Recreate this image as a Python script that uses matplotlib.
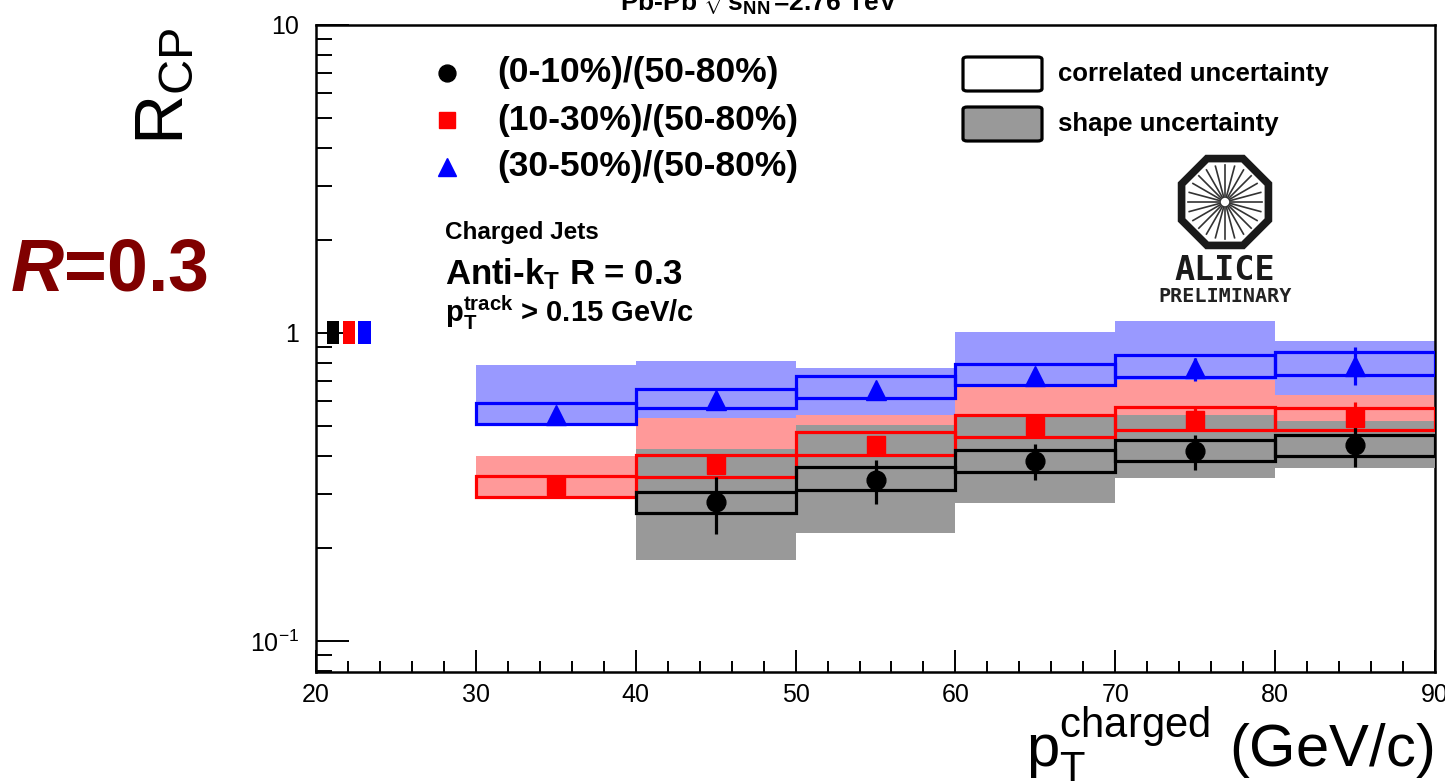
import numpy as np
import matplotlib
matplotlib.use("Agg")
import matplotlib.pyplot as plt
from matplotlib.patches import Rectangle, FancyBboxPatch, RegularPolygon

plt.rcParams['font.family'] = ['Liberation Sans', 'DejaVu Sans']
plt.rcParams['mathtext.fontset'] = 'custom'
plt.rcParams['mathtext.rm'] = 'Liberation Sans'
plt.rcParams['mathtext.bf'] = 'Liberation Sans:bold'
plt.rcParams['mathtext.it'] = 'Liberation Sans:bold:italic'
plt.rcParams['mathtext.sf'] = 'Liberation Sans'

W, H = 1445, 782

# bins in pT (GeV/c)
bin_lo = [30, 40, 50, 60, 70, 80]
bin_hi = [40, 50, 60, 70, 80, 90]

# (0-10%)/(50-80%) -- no point in the 30-40 bin
blk_x = [45, 55, 65, 75, 85]
blk_y = [0.283, 0.334, 0.383, 0.415, 0.434]
blk_stat_lo = [0.223, 0.278, 0.332, 0.360, 0.367]
blk_stat_hi = [0.340, 0.388, 0.437, 0.468, 0.498]
blk_corr_lo = [0.260, 0.310, 0.355, 0.383, 0.398]
blk_corr_hi = [0.305, 0.367, 0.418, 0.450, 0.468]
blk_shape_lo = [0.183, 0.224, 0.281, 0.338, 0.365]
blk_shape_hi = [0.421, 0.504, 0.543, 0.543, 0.517]

# (10-30%)/(50-80%)
red_x = [35, 45, 55, 65, 75, 85]
red_y = [0.318, 0.374, 0.434, 0.498, 0.523, 0.530]
red_stat_lo = [0.305, 0.355, 0.410, 0.470, 0.485, 0.470]
red_stat_hi = [0.332, 0.392, 0.460, 0.530, 0.575, 0.595]
red_corr_lo = [0.293, 0.342, 0.403, 0.461, 0.483, 0.486]
red_corr_hi = [0.344, 0.401, 0.477, 0.543, 0.575, 0.571]
red_shape_lo = [0.293, 0.300, 0.360, 0.400, 0.420, 0.450]
red_shape_hi = [0.398, 0.530, 0.543, 0.671, 0.705, 0.630]

# (30-50%)/(50-80%)
blu_x = [35, 45, 55, 65, 75, 85]
blu_y = [0.543, 0.607, 0.655, 0.723, 0.770, 0.780]
blu_stat_lo = [0.520, 0.580, 0.625, 0.690, 0.699, 0.680]
blu_stat_hi = [0.565, 0.630, 0.685, 0.760, 0.830, 0.899]
blu_corr_lo = [0.507, 0.571, 0.615, 0.677, 0.718, 0.732]
blu_corr_hi = [0.593, 0.659, 0.723, 0.795, 0.851, 0.866]
blu_shape_lo = [0.507, 0.500, 0.520, 0.620, 0.680, 0.630]
blu_shape_hi = [0.789, 0.809, 0.770, 1.005, 1.090, 0.940]

# normalisation boxes at unity
norm_x0 = [20.7, 21.7, 22.65]
norm_x1 = [21.45, 22.45, 23.45]
norm_lo = 0.92
norm_hi = 1.09

legend_labels = ['(0-10%)/(50-80%)', '(10-30%)/(50-80%)', '(30-50%)/(50-80%)']


def fx(px):
    return px / W


def fy(py):
    return 1 - py / H


fig = plt.figure(figsize=(W / 100, H / 100), dpi=100)
ax = fig.add_axes([fx(316), fy(672), fx(1435 - 316), (672 - 25) / H])
ax.set_yscale('log')
ax.set_xlim(20, 90)
ax.set_ylim(0.0793, 10)


def offset_bins(n):
    return bin_lo[6 - n:], bin_hi[6 - n:]


# shape uncertainty bands
series = [
    (blu_shape_lo, blu_shape_hi, '#9999ff', 1),
    (red_shape_lo, red_shape_hi, '#ff9999', 2),
    (blk_shape_lo, blk_shape_hi, '#999999', 3),
]
for lo, hi, c, z in series:
    x0s, x1s = offset_bins(len(lo))
    for a, b, l, h in zip(x0s, x1s, lo, hi):
        ax.add_patch(Rectangle((a, l), b - a, h - l, facecolor=c, edgecolor='none', zorder=z))

# correlated uncertainty boxes
series = [
    (blu_corr_lo, blu_corr_hi, '#0000ff'),
    (red_corr_lo, red_corr_hi, '#ff0000'),
    (blk_corr_lo, blk_corr_hi, 'black'),
]
for lo, hi, c in series:
    x0s, x1s = offset_bins(len(lo))
    for a, b, l, h in zip(x0s, x1s, lo, hi):
        ax.add_patch(Rectangle((a, l), b - a, h - l, facecolor='none', edgecolor=c, lw=2.3, zorder=5))

# points with stat errors
pts = [
    (blu_x, blu_y, blu_stat_lo, blu_stat_hi, '#0000ff', '^', 14),
    (red_x, red_y, red_stat_lo, red_stat_hi, '#ff0000', 's', 13),
    (blk_x, blk_y, blk_stat_lo, blk_stat_hi, 'black', 'o', 13.5),
]
for x, y, lo, hi, c, m, ms in pts:
    y = np.array(y)
    yerr = [y - np.array(lo), np.array(hi) - y]
    ax.errorbar(x, y, yerr=yerr, fmt=m, color=c, ms=ms, mec=c, elinewidth=2.3, capsize=0, zorder=7)

for a, b, c in zip(norm_x0, norm_x1, ['black', '#ff0000', '#0000ff']):
    ax.add_patch(Rectangle((a, norm_lo), b - a, norm_hi - norm_lo, facecolor=c, edgecolor='none', zorder=6))

# axes styling (ROOT-like inward ticks)
for s in ax.spines.values():
    s.set_linewidth(1.8)
ax.set_xticks(np.arange(20, 91, 10))
ax.set_xticks(np.arange(20, 91, 2), minor=True)
ax.set_yticks([0.1, 1, 10])
ax.set_yticklabels(['$10^{\\mathrm{-1}}$', '1', '10'])
ax.yaxis.set_minor_locator(matplotlib.ticker.LogLocator(base=10, subs=np.arange(2, 10)))
ax.yaxis.set_minor_formatter(matplotlib.ticker.NullFormatter())
ax.tick_params(axis='x', which='major', direction='in', length=16, width=1.4, labelsize=18, pad=8)
ax.tick_params(axis='x', which='minor', direction='in', length=8, width=1.4)
ax.tick_params(axis='y', which='major', direction='in', length=24, width=1.4, labelsize=18, pad=12)
ax.tick_params(axis='y', which='minor', direction='in', length=11.5, width=1.4)

# series legend
leg_y = [0.926, 0.853, 0.781]
for (x, y, lo, hi, c, m, ms), ly, lab in zip(pts[::-1], leg_y, legend_labels):
    ax.plot([0.117], [ly], marker=m, color=c, ms=ms * 0.9, transform=ax.transAxes, clip_on=False, zorder=8)
    ax.text(0.162, ly, lab, transform=ax.transAxes, fontsize=25.5, fontweight='bold', va='center')

# uncertainty legend
for y0, fc, lab in [(57, 'white', 'correlated uncertainty'), (107, '#999999', 'shape uncertainty')]:
    fig.patches.append(FancyBboxPatch((fx(963), fy(y0 + 34)), fx(79), 34 / H,
                                      boxstyle='round,pad=0,rounding_size=0.003',
                                      facecolor=fc, edgecolor='black', lw=2.3,
                                      transform=fig.transFigure, figure=fig))
    fig.text(fx(1058), fy(y0 + 17), lab, fontsize=18.5, fontweight='bold', va='center')

# labels
fig.text(fx(445), fy(232), 'Charged Jets', fontsize=17.5, fontweight='bold', va='center')
fig.text(fx(445), fy(284), r'Anti-k$_{\mathbf{T}}$ R = 0.3', fontsize=25, fontweight='bold', va='baseline')
fig.text(fx(445), fy(322), r'p$_{\mathbf{T}}^{\mathbf{track}}$ > 0.15 GeV/c', fontsize=21, fontweight='bold',
         va='baseline')

fig.text(fx(759), fy(12), r'Pb-Pb $\mathbf{\sqrt{s_{NN}}}$=2.76 TeV', fontsize=19, fontweight='bold',
         ha='center', va='baseline')

fig.text(fx(10), fy(271), r'$R$=0.3', fontsize=53, fontweight='bold', color='#800000', va='center')
fig.text(fx(197), fy(145), r'R$_{\mathrm{CP}}$', fontsize=50, rotation=90, ha='right', va='bottom')
fig.text(fx(1433), fy(767), r'p$_{\mathrm{T}}^{\mathrm{charged}}$ (GeV/c)', fontsize=43, ha='right', va='baseline')

# ALICE logo
lax = fig.add_axes([fx(1150), fy(312), fx(150), 160 / H])
lax.set_xlim(-75, 75)
lax.set_ylim(-110, 50)
lax.set_aspect('equal')
lax.axis('off')
lax.add_patch(RegularPolygon((0, 0), 8, radius=47, orientation=np.pi / 8, facecolor='none',
                             edgecolor='#1a1a1a', lw=5.5))
for ang in np.arange(0, 360, 15):
    t = np.deg2rad(ang)
    lax.plot([5 * np.cos(t), 37 * np.cos(t)], [5 * np.sin(t), 37 * np.sin(t)], color='#333333', lw=1.2)
lax.text(0, -68, 'ALICE', ha='center', va='center', fontsize=24, family='DejaVu Sans Mono', color='#1a1a1a',
         fontweight='bold')
lax.text(0, -95, 'PRELIMINARY', ha='center', va='center', fontsize=14.5, family='DejaVu Sans Mono',
         fontweight='bold', color='#222222')

fig.savefig('out.png', dpi=100)
